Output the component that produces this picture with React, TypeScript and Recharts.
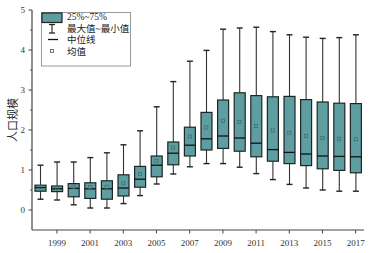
import React from 'react';
import { ComposedChart, Bar, Scatter, XAxis, YAxis, Legend, Label } from 'recharts';

// yearly distribution of 人口规模
const years = [
  '1998', '1999', '2000', '2001', '2002', '2003', '2004', '2005', '2006', '2007',
  '2008', '2009', '2010', '2011', '2012', '2013', '2014', '2015', '2016', '2017',
];
const maxs = [1.12, 1.2, 1.2, 1.31, 1.43, 1.63, 1.98, 2.58, 3.21, 3.72, 3.99, 4.52, 4.55, 4.57, 4.46, 4.38, 4.32, 4.29, 4.31, 4.38];
const q3s = [0.62, 0.6, 0.66, 0.68, 0.73, 0.88, 1.09, 1.35, 1.7, 2.07, 2.44, 2.75, 2.93, 2.86, 2.83, 2.84, 2.76, 2.7, 2.67, 2.66];
const medians = [0.56, 0.53, 0.54, 0.53, 0.53, 0.55, 0.77, 1.12, 1.42, 1.62, 1.78, 1.85, 1.8, 1.67, 1.51, 1.44, 1.4, 1.35, 1.34, 1.33];
const q1s = [0.47, 0.46, 0.33, 0.29, 0.27, 0.35, 0.57, 0.83, 1.13, 1.35, 1.5, 1.54, 1.47, 1.33, 1.22, 1.16, 1.11, 1.03, 0.99, 0.93];
const mins = [0.27, 0.25, 0.13, 0.05, 0.05, 0.16, 0.36, 0.65, 0.9, 1.08, 1.16, 1.16, 1.07, 0.91, 0.76, 0.64, 0.55, 0.5, 0.47, 0.47];
const means = [0.57, 0.56, 0.58, 0.57, 0.58, 0.67, 0.9, 1.23, 1.56, 1.84, 2.06, 2.23, 2.2, 2.1, 1.99, 1.93, 1.85, 1.8, 1.78, 1.77];

const yTicks = [-0.5, 0, 0.5, 1, 1.5, 2, 2.5, 3, 3.5, 4, 4.5, 5];
const legendLabels = ['25%~75%', '最大值~最小值', '中位线', '均值'];

const data = years.map((year, i) => ({
  year,
  whisker: [mins[i], maxs[i]],
  box: [q1s[i], q3s[i]],
  median: medians[i],
  mean: means[i],
}));

const FONT = '"Liberation Serif", "Noto Sans CJK SC", serif';
const FILL = '#5F9EA0';
const EDGE = '#1c2626';
const AXIS = '#444';
const BOX_W = 11;

function WhiskerShape(props: any) {
  const { x, y, width, height } = props;
  const cx = x + width / 2;
  const top = Math.min(y, y + height);
  const bottom = Math.max(y, y + height);
  return (
    <g>
      <line x1={cx} x2={cx} y1={top} y2={bottom} stroke="#333" strokeWidth={1.1} />
      <line x1={cx - 3} x2={cx + 3} y1={top} y2={top} stroke="#222" strokeWidth={1.4} />
      <line x1={cx - 3} x2={cx + 3} y1={bottom} y2={bottom} stroke="#222" strokeWidth={1.4} />
    </g>
  );
}

function BoxShape(props: any) {
  const { x, y, width, height } = props;
  const top = Math.min(y, y + height);
  return <rect x={x} y={top} width={width} height={Math.abs(height)} fill={FILL} stroke={EDGE} strokeWidth={1.2} />;
}

function MedianShape(props: any) {
  const { cx, cy } = props;
  return <line x1={cx - BOX_W / 2} x2={cx + BOX_W / 2} y1={cy} y2={cy} stroke="#111" strokeWidth={1.3} />;
}

function MeanShape(props: any) {
  const { cx, cy } = props;
  return <rect x={cx - 1.6} y={cy - 1.6} width={3.2} height={3.2} fill="none" stroke="#3f6f70" strokeWidth={0.8} />;
}

function YTick(props: any) {
  const { x, y, payload } = props;
  const v = payload.value as number;
  if (v < 0) return null;
  const major = Number.isInteger(v);
  return (
    <g>
      <line x1={x - (major ? 3.5 : 1.8)} x2={x} y1={y} y2={y} stroke={AXIS} strokeWidth={1} />
      {major && (
        <text x={x - 7} y={y + 3} textAnchor="end" fontSize={9} fontFamily={FONT} fill="#333">
          {v}
        </text>
      )}
    </g>
  );
}

function XTick(props: any) {
  const { x, y, payload } = props;
  if (Number(payload.value) % 2 === 0) return null;
  return (
    <g>
      <line x1={x} x2={x} y1={y} y2={y + 3.5} stroke={AXIS} strokeWidth={1} />
      <text x={x} y={y + 16} textAnchor="middle" fontSize={9} fontFamily={FONT} fill="#333">
        {payload.value}
      </text>
    </g>
  );
}

function LegendBox() {
  const rowY = [16, 28, 39.5, 51];
  return (
    <svg width={90} height={55} style={{ display: 'block' }}>
      <rect x={0.5} y={0.5} width={89} height={53.5} fill="#fff" stroke="#999" strokeWidth={1} />
      {/* icons */}
      <rect x={1} y={1} width={20} height={9.5} fill={FILL} stroke={EDGE} strokeWidth={1.2} />
      <line x1={11} x2={11} y1={12.5} y2={21} stroke="#222" strokeWidth={1.1} />
      <line x1={8} x2={14} y1={12.5} y2={12.5} stroke="#222" strokeWidth={1.3} />
      <line x1={8} x2={14} y1={21} y2={21} stroke="#222" strokeWidth={1.3} />
      <line x1={7} x2={17} y1={27.5} y2={27.5} stroke="#111" strokeWidth={1.3} />
      <rect x={9.5} y={37.5} width={3} height={3} fill="none" stroke="#555" strokeWidth={0.8} />
      {legendLabels.map((label, i) => (
        <text key={label} x={26} y={rowY[i] - 12 + 3.5} fontSize={9.5} fontFamily={FONT} fill="#222">
          {label}
        </text>
      ))}
    </svg>
  );
}

export default function App() {
  return (
    <div style={{ position: 'fixed', left: 0, top: 0, background: '#fff' }}>
      <ComposedChart
        width={372}
        height={253}
        data={data}
        margin={{ top: 10, right: 8, bottom: 0, left: 0 }}
        barGap={-BOX_W}
      >
        <XAxis
          dataKey="year"
          type="category"
          height={23}
          interval={0}
          tickSize={0}
          tickMargin={0}
          tickLine={false}
          tick={<XTick />}
          axisLine={{ stroke: AXIS, strokeWidth: 1.2 }}
        />
        <YAxis
          type="number"
          width={32}
          domain={[-0.5, 5]}
          ticks={yTicks}
          interval={0}
          allowDataOverflow
          tickSize={0}
          tickMargin={0}
          tickLine={false}
          tick={<YTick />}
          axisLine={{ stroke: AXIS, strokeWidth: 1.2 }}
        >
          <Label
            content={(p: any) => {
              const vb = p.viewBox || {};
              const cy = (vb.y ?? 10) + (vb.height ?? 220) / 2;
              return (
                <text
                  x={13}
                  y={cy}
                  transform={`rotate(-90, 13, ${cy})`}
                  textAnchor="middle"
                  dominantBaseline="central"
                  fontSize={11}
                  fontFamily={FONT}
                  fill="#222"
                >
                  人口规模
                </text>
              );
            }}
          />
        </YAxis>
        <Legend
          layout="horizontal"
          verticalAlign="middle"
          align="center"
          wrapperStyle={{ left: 41, top: 12, width: 90, height: 55 }}
          content={() => <LegendBox />}
        />
        <Bar dataKey="whisker" barSize={BOX_W} shape={<WhiskerShape />} isAnimationActive={false} />
        <Bar dataKey="box" barSize={BOX_W} shape={<BoxShape />} isAnimationActive={false} />
        <Scatter dataKey="median" shape={<MedianShape />} isAnimationActive={false} />
        <Scatter dataKey="mean" shape={<MeanShape />} isAnimationActive={false} />
      </ComposedChart>
    </div>
  );
}
